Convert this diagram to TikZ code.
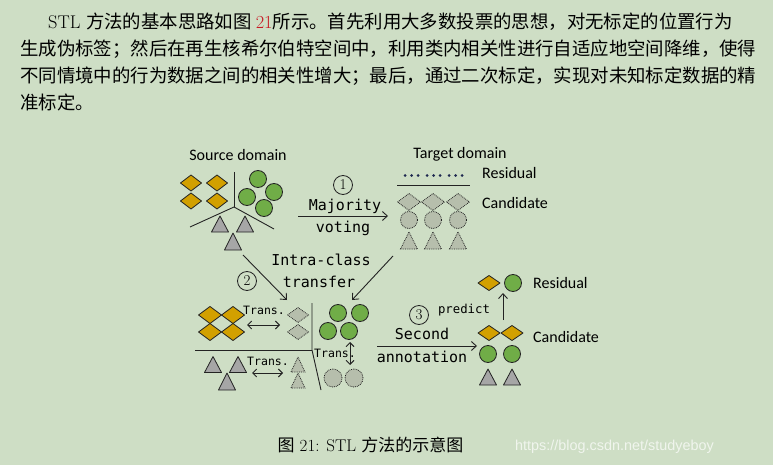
\documentclass[tikz,border=0pt]{standalone}
\usepackage{fontspec}
\newfontfamily\cjk{Noto Sans CJK SC}
\newfontfamily\calib{Carlito}
\newfontfamily\monof{DejaVu Sans Mono}
\newfontfamily\wmfont{Liberation Sans}
\usetikzlibrary{arrows.meta}
\definecolor{bg}{RGB}{206,222,197}
\definecolor{goldc}{RGB}{210,160,0}
\definecolor{greenc}{RGB}{112,173,71}
\definecolor{grayc}{RGB}{166,166,166}
\definecolor{dashc}{RGB}{182,190,172}
\definecolor{outl}{RGB}{35,35,35}
\definecolor{refred}{RGB}{200,25,35}
\definecolor{dotc}{RGB}{30,40,80}
\newcommand\mydia[5]{\draw[#1] (#2-#4,#3) -- (#2,#3-#5) -- (#2+#4,#3) -- (#2,#3+#5) -- cycle;}
\newcommand\mycirc[4]{\draw[#1] (#2,#3) circle[radius=#4pt];}
\newcommand\mytri[5]{\draw[#1] (#2,#3-#5) -- (#2+#4,#3+#5) -- (#2-#4,#3+#5) -- cycle;}
\tikzset{
  shgold/.style={fill=goldc,draw=outl,line width=0.8pt,line join=round},
  shgreen/.style={fill=greenc,draw=outl,line width=0.8pt},
  shgray/.style={fill=grayc,draw=outl,line width=0.8pt,line join=round},
  shdash/.style={fill=dashc,draw=outl,line width=0.8pt,densely dotted},
  sep/.style={draw=outl,line width=0.9pt},
  arr/.style={draw=outl,line width=0.9pt,-{Straight Barb[length=5pt,width=9pt]}},
  darr/.style={draw=outl,line width=0.9pt,{Straight Barb[length=4pt,width=8pt]}-{Straight Barb[length=4pt,width=8pt]}},
  para/.style={anchor=base west,inner sep=0pt,font=\fontsize{18.4}{20}\selectfont},
  lbl/.style={inner sep=0pt,font=\calib\fontsize{16}{18}\selectfont},
  mono/.style={inner sep=0pt,font=\monof\fontsize{15}{16}\selectfont},
  smono/.style={inner sep=0pt,font=\monof\fontsize{11.5}{13}\selectfont},
  num/.style={circle,draw=outl,line width=0.8pt,minimum size=19pt,inner sep=0pt,font=\fontsize{15}{16}\selectfont},
}
\begin{document}
\begin{tikzpicture}[x=1pt,y=-1pt]
\fill[bg] (0,0) rectangle (773,465);
\useasboundingbox (0,0) rectangle (773,465);
% paragraph
\node[para] (l1) at (48,29) {STL \cjk 方法的基本思路如图 {\rmfamily\color{refred}21}所示。首先利用大多数投票的思想，对无标定的位置行为};
\node[para] (l2) at (20,56) {\cjk 生成伪标签；然后在再生核希尔伯特空间中，利用类内相关性进行自适应地空间降维，使得};
\node[para] (l3) at (20,83) {\cjk 不同情境中的行为数据之间的相关性增大；最后，通过二次标定，实现对未知标定数据的精};
\node[para] (l4) at (20,110) {\cjk 准标定。};
% caption
\node[anchor=base,inner sep=0pt,font=\fontsize{17}{19}\selectfont] (cap) at (370.5,451) {{\cjk 图} 21: STL {\cjk 方法的示意图}};
\node[anchor=base west,inner sep=0pt,font=\wmfont\fontsize{14.4}{16}\selectfont,text=white,text opacity=0.7] (wm) at (515,450) {https://blog.csdn.net/studyeboy};
% ---------- source domain
\node[lbl] (src) at (238,155) {Source domain};
\mydia{shgold}{191}{183}{10.5}{8}
\mydia{shgold}{217}{183}{10.5}{8}
\mydia{shgold}{191}{201}{10.5}{8}
\mydia{shgold}{217}{201}{10.5}{8}
\mycirc{shgreen}{258}{179}{8.5}
\mycirc{shgreen}{274}{192}{8.5}
\mycirc{shgreen}{247}{197}{8.5}
\mycirc{shgreen}{264}{208}{8.5}
\mytri{shgray}{220}{224}{8.5}{8}
\mytri{shgray}{245}{224}{8.5}{8}
\mytri{shgray}{233}{241.5}{8.5}{8.5}
\coordinate (sc) at (234,207);
\draw[sep] (234,172) -- (sc);
\draw[sep] (190,227) -- (sc) -- (274,229);
% ---------- step 1
\node[num] (n1) at (343,185) {1};
\node[mono] (maj) at (345,206) {Majority};
\coordinate (a1s) at (298,216);
\coordinate (a1e) at (388,216);
\draw[arr] (a1s) -- (a1e);
\node[mono] (vot) at (343,228) {voting};
% ---------- target domain
\node[lbl] (tgt) at (460,154) {Target domain};
\node[lbl,anchor=west] (res1) at (482,173) {Residual};
\node[lbl,anchor=west] (can1) at (482,203) {Candidate};
\foreach \x in {405,411.5,418,427,433.5,440,449,455.5,462}{\fill[dotc] (\x,175.5) circle[radius=1.5pt];}
\draw[sep] (397,185) -- (470,185);
\foreach \x in {409,433,458}{
  \mydia{shdash}{\x}{202}{11.5}{8.5}
  \mycirc{shdash}{\x}{220}{8.5}
  \mytri{shdash}{\x}{240.5}{8.5}{8.5}
}
% ---------- step 2
\node[num] (n2) at (247,281) {2};
\node[mono] (intra) at (321,260) {Intra-class};
\node[mono] (trf) at (319,282) {transfer};
\coordinate (a2s) at (243,255);
\coordinate (a2e) at (287,300);
\draw[arr] (a2s) -- (a2e);
\coordinate (a3s) at (393,256);
\coordinate (a3e) at (352,300);
\draw[arr] (a3s) -- (a3e);
% left-top block
\mydia{shgold}{210}{315}{11.5}{8.5}
\mydia{shgold}{233}{315}{11.5}{8.5}
\mydia{shgold}{210}{332}{11.5}{8.5}
\mydia{shgold}{233}{332}{11.5}{8.5}
\node[smono] (t1) at (264,310) {Trans.};
\coordinate (d1s) at (247,325);
\coordinate (d1e) at (280,325);
\draw[darr] (d1s) -- (d1e);
\mydia{shdash}{298}{315}{10.5}{7.5}
\mydia{shdash}{298}{332}{10.5}{7.5}
% left-bottom block
\mytri{shgray}{213}{364.5}{8.5}{8}
\mytri{shgray}{238}{364.5}{8.5}{8}
\mytri{shgray}{227}{381.5}{8.5}{8.5}
\node[smono] (t2) at (268,361) {Trans.};
\coordinate (d2s) at (252,373);
\coordinate (d2e) at (283,373);
\draw[darr] (d2s) -- (d2e);
\mytri{shdash}{298}{364.5}{7}{7.5}
\mytri{shdash}{298}{380.5}{7}{7.5}
% separators
\coordinate (mc) at (312,350);
\draw[sep] (195,350) -- (mc);
\draw[sep] (312,303) -- (mc) -- (321,390);
% right block
\mycirc{shgreen}{338}{313}{8.5}
\mycirc{shgreen}{360}{313}{8.5}
\mycirc{shgreen}{328}{331}{8.5}
\mycirc{shgreen}{349}{331}{8.5}
\node[smono] (t3) at (335,353) {Trans.};
\coordinate (d3s) at (350,342);
\coordinate (d3e) at (350,365);
\draw[darr] (d3s) -- (d3e);
\mycirc{shdash}{333}{378}{9}
\mycirc{shdash}{354}{378}{9}
% ---------- step 3
\node[num] (n3) at (419,315) {3};
\node[inner sep=0pt,font=\monof\fontsize{12.3}{14}\selectfont] (pred) at (464,310) {predict};
\node[mono] (sec) at (422,334) {Second};
\coordinate (a4s) at (377,346);
\coordinate (a4e) at (477,346);
\draw[arr] (a4s) -- (a4e);
\node[mono] (ann) at (422,357) {annotation};
\coordinate (a5s) at (503,320);
\coordinate (a5e) at (503,293);
\draw[arr] (a5s) -- (a5e);
% result
\mydia{shgold}{489}{283}{11}{7.5}
\mycirc{shgreen}{513}{283}{8.5}
\node[lbl,anchor=west] (res2) at (533,283) {Residual};
\mydia{shgold}{489}{333}{11}{7.5}
\mydia{shgold}{512}{333}{11}{7.5}
\node[lbl,anchor=west] (can2) at (533,337) {Candidate};
\mycirc{shgreen}{488}{354}{8.5}
\mycirc{shgreen}{512}{354}{8.5}
\mytri{shgray}{488}{377}{8.5}{8}
\mytri{shgray}{512}{377}{8.5}{8}
\end{tikzpicture}
\end{document}
